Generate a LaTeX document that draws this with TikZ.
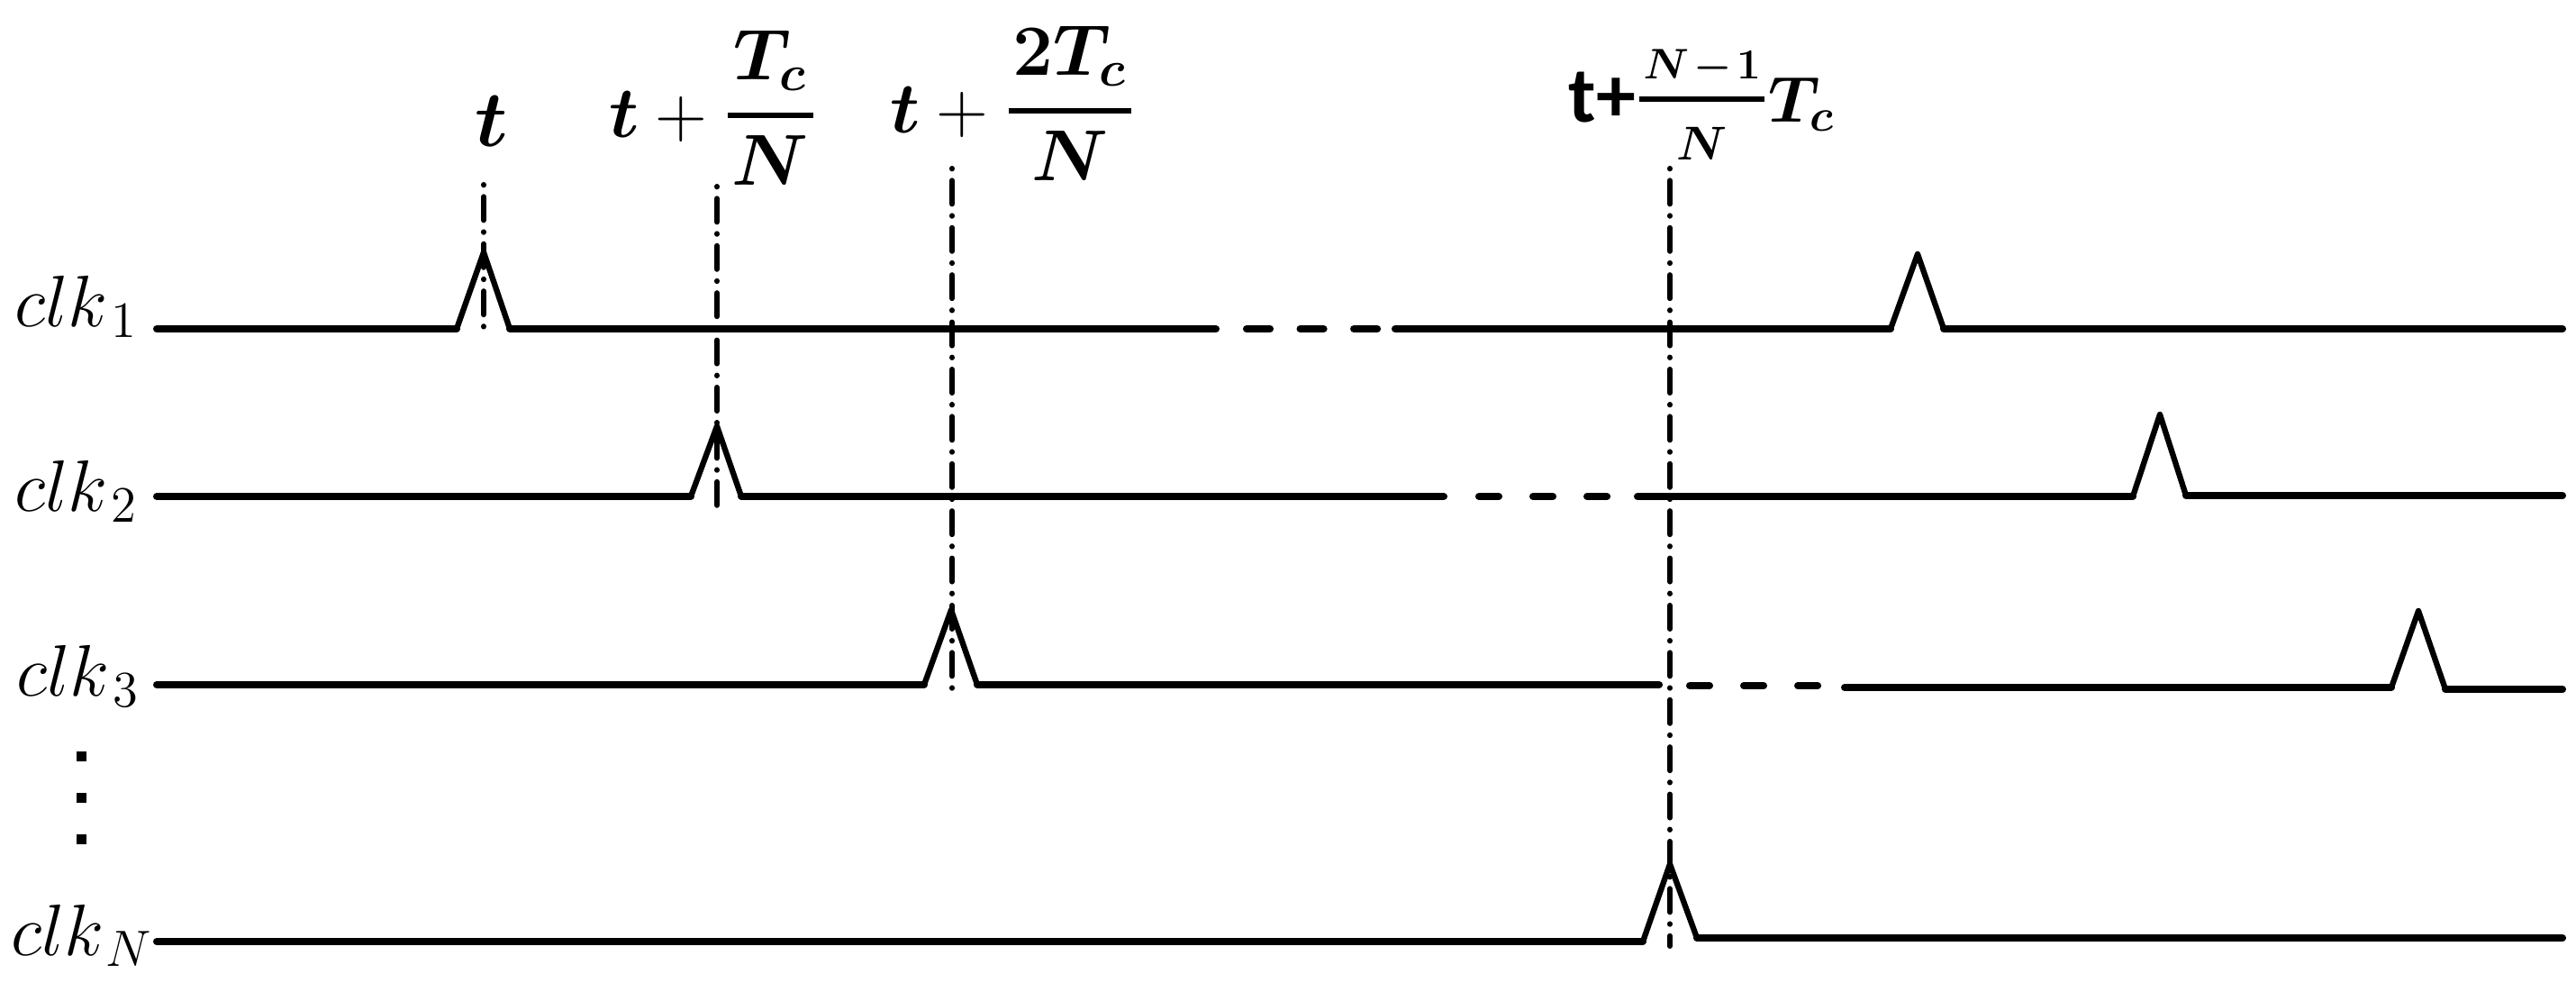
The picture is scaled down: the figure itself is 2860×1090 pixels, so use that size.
\RequirePackage{fix-cm}
\documentclass[tikz,border=0pt]{standalone}
\usepackage{amsmath}
\usepackage{bm}
\usepackage[no-math]{fontspec}
\newfontfamily\carl{Carlito}
\newdimen\px \px=0.01cm
% custom fraction: #1 num, #2 den, #3 num raise, #4 den drop, #5 bar raise, #6 bar thickness
\newcommand{\Fr}[6]{\mathord{\hbox{%
  \setbox0=\hbox{#1}\setbox2=\hbox{#2}%
  \dimen0=\wd0 \ifdim\wd2>\dimen0 \dimen0=\wd2 \fi
  \advance\dimen0 by 0.12em
  \kern0.06em
  \rlap{\raise#3\hbox to\dimen0{\hss\box0\hss}}%
  \rlap{\raise#5\hbox{\vrule width\dimen0 height#6 depth0pt}}%
  \lower#4\hbox to\dimen0{\hss\box2\hss}%
  \kern0.06em}}}
\tikzset{
  sig/.style={line width=2.3pt, line cap=round},
  pulse/.style={line width=1.8pt, line join=round, line cap=round},
  gapa/.style={line width=2.3pt, line cap=round, dash pattern=on 7.4pt off 9.53pt},
  gapb/.style={line width=2.3pt, line cap=round, dash pattern=on 6.26pt off 10.81pt},
  vmark/.style={line width=1.7pt, line cap=round, dash pattern=on 0.1pt off 3.7pt on 7.4pt off 3.7pt},
  clklab/.style={inner sep=0pt, anchor=base west, font=\fontsize{23}{27}\selectfont},
  tlab/.style={inner sep=0pt, anchor=base west, font=\fontsize{22.76}{27}\selectfont},
}
\begin{document}
\begin{tikzpicture}[x=0.01cm, y=-0.01cm]
\useasboundingbox (0,0) rectangle (2860,1090);

% signal labels
\node[clklab] (c1) at (16,362) {$clk_{\kern0.08em 1}$};
\node[clklab] (c2) at (16,567) {$clk_{\kern0.08em 2}$};
\node[clklab] (c3) at (18,772) {$clk_{\kern0.08em 3}$};
\node[clklab] (cN) at (12,1060) {$clk_{\kern0.05em N}$};

% vertical ellipsis
\fill (85,834) rectangle (96,845);
\fill (85,880) rectangle (96,891);
\fill (85,926) rectangle (96,937);

% time labels
\node[inner sep=0pt, anchor=base, font=\fontsize{25}{30}\selectfont] (l1) at (546,162) {$\bm{t}$};
\node[tlab] (l2) at (676,152) {$\bm{t}+\Fr{$\bm{T_c}$}{$\bm{N}$}{64\px}{53\px}{21\px}{6\px}$};
\node[tlab] (l3) at (988,147) {$\bm{t}+\Fr{$\bm{2T_c}$}{$\bm{N}$}{64\px}{53\px}{21\px}{6\px}$};
\node[tlab, font=\fontsize{20.5}{25}\selectfont] (l4) at (1741,135) {{\carl\bfseries\fontsize{25}{30}\selectfont t+}$\Fr{\fontsize{13.5}{16}\selectfont\medmuskip=2mu$\bm{N-1}$}{\fontsize{15}{18}\selectfont$\bm{N}$}{48\px}{42\px}{22\px}{6\px}\bm{T_c}$};

% clk1
\draw[sig] (174,365) -- (507,365);
\draw[pulse] (507,365) -- (537,280) -- (566,365);
\draw[sig] (566,365) -- (1350,365);
\draw[gapa] (1384,365) -- (1530,365);
\draw[sig] (1549,365) -- (2099,365);
\draw[pulse] (2099,365) -- (2129,282) -- (2158,365);
\draw[sig] (2158,365) -- (2845,365);

% clk2
\draw[sig] (174,551) -- (767,551);
\draw[pulse] (767,551) -- (796,473) -- (823,551);
\draw[sig] (823,551) -- (1603,551);
\draw[gapb] (1642,551) -- (1786,551);
\draw[sig] (1818,551) -- (2368,551);
\draw[pulse] (2368,551) -- (2398,460) -- (2427,550);
\draw[sig] (2427,550) -- (2845,550);

% clk3
\draw[sig] (174,760) -- (1026,760);
\draw[pulse] (1026,760) -- (1056,677) -- (1085,760);
\draw[sig] (1085,760) -- (1842,760);
\draw[gapb] (1876,761) -- (2020,761);
\draw[sig] (2048,763) -- (2655,763);
\draw[pulse] (2655,763) -- (2685,678) -- (2715,765);
\draw[sig] (2715,765) -- (2845,765);

% clkN
\draw[sig] (174,1045) -- (1824,1045);
\draw[pulse] (1824,1045) -- (1854,959) -- (1884,1041);
\draw[sig] (1884,1041) -- (2845,1041);

% vertical dash-dot markers
\draw[vmark] (537,205) -- (537,373);
\draw[vmark] (796,207) -- (796,567);
\draw[vmark] (1057,187) -- (1057,775);
\draw[vmark] (1854,187) -- (1854,1050);
\end{tikzpicture}
\end{document}
